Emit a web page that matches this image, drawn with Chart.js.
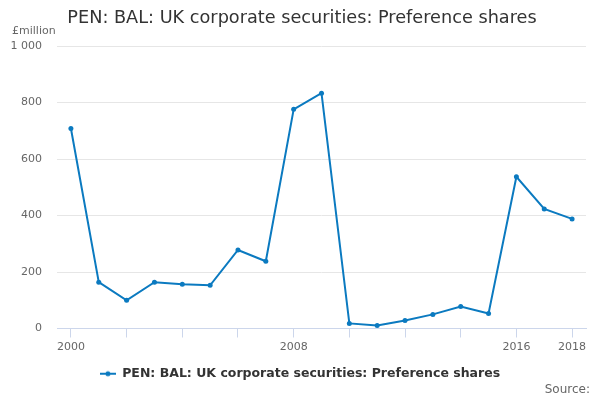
<!DOCTYPE html>
<html>
<head>
<meta charset="utf-8">
<script src="https://cdn.jsdelivr.net/npm/chart.js@4/dist/chart.umd.min.js"></script>
<style>
  html, body { margin: 0; padding: 0; background: #fff; }
  #wrap { width: 600px; height: 400px; position: relative; }
</style>
</head>
<body>
<div id="wrap"><canvas id="myChart"></canvas></div>
<script>
// datos del grafico
const years = ["2000", "2001", "2002", "2003", "2004", "2005", "2006", "2007", "2008", "2009",
  "2010", "2011", "2012", "2013", "2014", "2015", "2016", "2017", "2018"];
const values = [708, 164, 100, 164, 157, 153, 278, 238, 776, 833,
  18, 11, 28, 50, 78, 53, 537, 423, 388];
const shownYears = ["2000", "2008", "2016", "2018"];
const seriesName = "PEN: BAL: UK corporate securities: Preference shares";
const titulo = "PEN: BAL: UK corporate securities: Preference shares";
const unidad = "£million";
const fuente = "Source:";

const azul = "#0b7ac0";
const fontFam = "'DejaVu Sans', sans-serif";

// marcador de la leyenda: linea con punto
const marker = document.createElement("canvas");
marker.width = 16;
marker.height = 8;
const mctx = marker.getContext("2d");
mctx.strokeStyle = azul;
mctx.lineWidth = 2;
mctx.beginPath();
mctx.moveTo(0, 4);
mctx.lineTo(16, 4);
mctx.stroke();
mctx.fillStyle = azul;
mctx.beginPath();
mctx.arc(8, 4, 2.5, 0, Math.PI * 2);
mctx.fill();

const textos = {
  id: "textos",
  afterDraw(chart) {
    const ctx = chart.ctx;
    ctx.save();
    ctx.fillStyle = "#333333";
    ctx.font = "17.7px " + fontFam;
    ctx.textAlign = "center";
    ctx.textBaseline = "middle";
    ctx.fillText(titulo, 302, 18);

    ctx.fillStyle = "#666666";
    ctx.font = "11px " + fontFam;
    ctx.textAlign = "left";
    ctx.fillText(unidad, 12, 31);

    ctx.font = "12px " + fontFam;
    ctx.textAlign = "right";
    ctx.fillText(fuente, 590, 390);
    ctx.restore();
  }
};

const config = {
  type: "line",
  data: {
    labels: years,
    datasets: [{
      label: seriesName,
      data: values,
      borderColor: azul,
      backgroundColor: azul,
      borderWidth: 2,
      pointRadius: 2.5,
      pointHoverRadius: 2.5,
      pointBackgroundColor: azul,
      pointBorderWidth: 0,
      tension: 0
    }]
  },
  options: {
    responsive: true,
    maintainAspectRatio: false,
    animation: false,
    layout: { padding: { top: 46, right: 0, left: 0, bottom: 10 } },
    plugins: {
      title: { display: false },
      tooltip: { enabled: false },
      legend: {
        position: "bottom",
        labels: {
          usePointStyle: true,
          pointStyleWidth: 16,
          padding: 9,
          color: "#333333",
          font: { family: fontFam, size: 12.5, weight: "bold" },
          generateLabels(chart) {
            const items = Chart.defaults.plugins.legend.labels.generateLabels(chart);
            items.forEach(it => { it.pointStyle = marker; });
            return items;
          }
        }
      }
    },
    scales: {
      x: {
        type: "category",
        offset: true,
        afterFit(axis) { axis.height = 30; },
        grid: {
          offset: false,
          drawOnChartArea: false,
          drawTicks: true,
          tickLength: 9,
          color: (c) => (c.index % 2 === 0 ? "#ccd6eb" : "rgba(0,0,0,0)")
        },
        border: { display: true, color: "#ccd6eb", width: 1 },
        ticks: {
          autoSkip: false,
          maxRotation: 0,
          padding: 3,
          color: "#666666",
          font: { family: fontFam, size: 11 },
          callback: function (v, i) {
            return shownYears.includes(years[i]) ? years[i] : "";
          }
        }
      },
      y: {
        min: 0,
        max: 1000,
        afterFit(axis) { axis.width = 57; },
        grid: { color: "#e6e6e6", drawTicks: false },
        border: { display: false },
        ticks: {
          stepSize: 200,
          padding: 15,
          color: "#666666",
          font: { family: fontFam, size: 11 },
          callback: (v) => String(v).replace(/\B(?=(\d{3})+(?!\d))/g, " ")
        }
      },
      // eje vacio a la derecha, solo para dejar margen
      yDer: {
        type: "linear",
        position: "right",
        min: 0,
        max: 1000,
        afterFit(axis) { axis.width = 14; },
        grid: { drawOnChartArea: false, drawTicks: false },
        border: { display: false },
        ticks: { display: false }
      }
    }
  },
  plugins: [textos]
};

const chartDOM = document.getElementById("myChart");
const myChart = new Chart(chartDOM, config);
</script>
</body>
</html>
